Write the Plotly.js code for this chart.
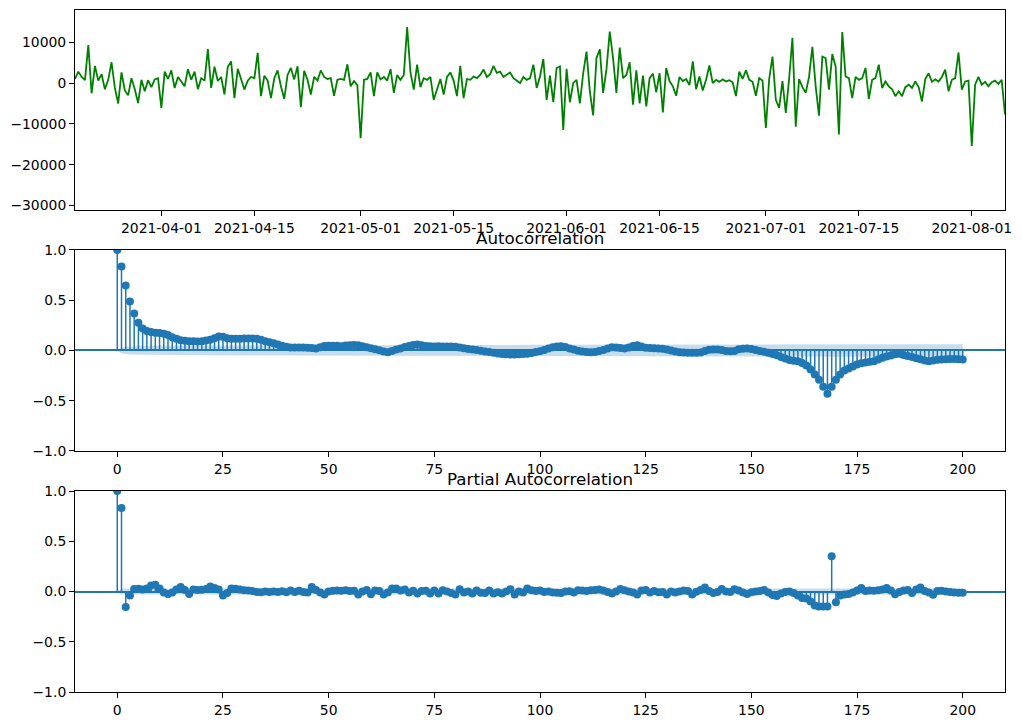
<!DOCTYPE html>
<html>
<head>
<meta charset="utf-8">
<script src="https://cdn.plot.ly/plotly-3.0.1.min.js"></script>
<style>
  body { margin: 0; background: #fff; }
  #chart { width: 1022px; height: 726px; }
</style>
</head>
<body>
<div id="chart"></div>
<script>
// differenced series, one reading every 12 hours from 2021-03-19 00:00
const seriesStart = Date.UTC(2021, 2, 19);
const seriesStepHours = 12;
const seriesValues = [
  1000, 2800, 1500, 700, 9300, -2500, 4200, 600, 2200, -1500,
  800, 5100, -1200, -5000, 2600, -1800, -3000, 1200, -1500, -4900,
  800, -2000, 700, -1000, 900, 1200, -6100, 2800, 1000, 3100,
  -1200, 1500, 400, -800, 3400, 800, 2800, -1500, 1200, 600,
  8300, -1200, 4000, 500, 1500, -2800, 4000, 5300, -3700, 3500,
  1000, -1600, 600, 1500, 1200, 7400, -3200, 1800, 600, -3700,
  1200, 3100, -800, -3900, 2000, 3700, 900, 4100, -5900, 3000,
  800, -2800, 1500, 600, 3100, 1500, 1000, 1200, -3100, 800,
  1000, 800, 4600, -800, 500, -500, -13500, 800, 1000, 2600,
  -3200, 2600, 900, 1500, 600, 3400, -2400, 2000, 800, 2000,
  13700, 2600, -1600, 4500, -1000, 1200, 800, 1500, -4100, -1500,
  1000, -2800, 1500, 2600, 600, -3200, 4200, -3700, 1000, 800,
  1600, 1200, 2000, 3300, 1500, 2200, 4200, 2500, 2800, 1500,
  2000, 2600, 1200, 600, 0, 1500, 800, 1200, 4500, -1200,
  1600, 5900, -4100, 1800, -4700, 3700, 4100, -11500, 3500, -4700,
  0, 800, -5000, 2400, 7700, -2000, -7900, 6100, 8300, -2400,
  3300, 12600, 6100, -2400, 8700, 1200, 2000, 5100, -5300, 3100,
  -5000, 1800, -5700, 1200, 2300, -2300, 2400, -7200, 3700, 500,
  -800, -3100, 1500, 500, 1000, -500, 5300, -1500, 1600, -1800,
  800, 4300, 0, 800, 300, 900, 400, 700, 200, -3200,
  2800, 1000, 3100, 800, 300, -3100, 1200, 600, -11000, 1000,
  6500, -4100, -6100, 500, -7300, 1000, 11100, -10700, 1000, -1000,
  -2400, 1500, 8900, -800, -8000, 6500, 6100, -1600, 7100, 4100,
  -12600, 12500, 1600, 1200, -3700, 1500, 800, 1200, 3700, -3900,
  800, 1200, 4500, -1200, 400, -800, -1500, -3200, -2000, -3200,
  -1000, -400, -1200, 400, -1000, -4500, 1000, 2400, 300, 900,
  400, 1500, 3300, -2000, 800, 1200, 7500, -1600, 400, 600,
  -15400, -400, 1500, -400, 300, -800, 200, 600, -200, 800,
  -7700
];

const dateTicks = ['2021-04-01', '2021-04-15', '2021-05-01', '2021-05-15', '2021-06-01',
                   '2021-06-15', '2021-07-01', '2021-07-15', '2021-08-01'];
const valueTicks = [10000, 0, -10000, -20000, -30000];

// autocorrelation, lags 0..200
const acfValues = [
  1.0, 0.837, 0.647, 0.487, 0.367, 0.277, 0.22, 0.193, 0.183, 0.177,
  0.173, 0.167, 0.153, 0.133, 0.117, 0.103, 0.097, 0.093, 0.092, 0.09,
  0.093, 0.1, 0.108, 0.123, 0.14, 0.137, 0.123, 0.117, 0.116, 0.118,
  0.12, 0.12, 0.119, 0.117, 0.107, 0.093, 0.083, 0.073, 0.06, 0.047,
  0.037, 0.031, 0.03, 0.03, 0.029, 0.027, 0.026, 0.02, 0.033, 0.045,
  0.047, 0.048, 0.046, 0.043, 0.05, 0.053, 0.054, 0.052, 0.043, 0.033,
  0.023, 0.013, 0.002, -0.01, -0.017, -0.005, 0.01, 0.02, 0.035, 0.045,
  0.055, 0.06, 0.052, 0.045, 0.042, 0.04, 0.041, 0.04, 0.04, 0.039,
  0.036, 0.03, 0.022, 0.016, 0.01, 0.004, -0.002, -0.01, -0.016, -0.023,
  -0.029, -0.034, -0.038, -0.04, -0.04, -0.038, -0.035, -0.032, -0.024, -0.015,
  -0.007, 0.005, 0.02, 0.033, 0.04, 0.043, 0.035, 0.02, 0.01, -0.003,
  -0.01, -0.015, -0.017, -0.014, -0.005, 0.005, 0.02, 0.033, 0.03, 0.024,
  0.02, 0.03, 0.045, 0.053, 0.04, 0.027, 0.025, 0.022, 0.02, 0.017,
  0.01, 0.0, -0.01, -0.017, -0.02, -0.023, -0.023, -0.023, -0.02, -0.005,
  0.008, 0.01, 0.01, 0.005, -0.005, -0.007, -0.004, 0.012, 0.017, 0.02,
  0.015, 0.005, -0.005, -0.013, -0.023, -0.035, -0.048, -0.065, -0.08, -0.095,
  -0.102, -0.108, -0.125, -0.15, -0.19, -0.24, -0.29, -0.36, -0.43, -0.36,
  -0.29, -0.24, -0.2, -0.18, -0.16, -0.14, -0.128, -0.12, -0.112, -0.106,
  -0.09, -0.073, -0.06, -0.05, -0.038, -0.033, -0.045, -0.055, -0.065, -0.078,
  -0.088, -0.1, -0.106, -0.1, -0.092, -0.09, -0.087, -0.085, -0.084, -0.088,
  -0.09
];
const acfBandLags = [0, 1, 2, 3, 5, 10, 20, 40, 60, 100, 150, 175, 200];
const acfBandHalf = [0, 0.03, 0.036, 0.04, 0.043, 0.046, 0.048, 0.051, 0.053, 0.056, 0.059, 0.062, 0.063];

// partial autocorrelation, lags 0..200
const pacfValues = [
  1.0, 0.83, -0.155, -0.04, 0.025, 0.027, 0.02, 0.03, 0.06, 0.068,
  0.03, -0.01, -0.025, -0.01, 0.02, 0.045, 0.015, -0.025, 0.02, 0.015,
  0.018, 0.025, 0.05, 0.035, 0.02, -0.04, -0.015, 0.03, 0.028, 0.02,
  0.012, 0.01, 0.005, -0.005, -0.008, 0.0, -0.005, 0.0, -0.006, 0.002,
  -0.008, 0.01, -0.005, 0.008, -0.004, -0.01, 0.045, 0.015, -0.01, -0.03,
  0.0, 0.008, 0.01, 0.008, 0.012, 0.005, 0.008, -0.03, 0.0, 0.015,
  -0.028, 0.01, 0.005, -0.03, -0.01, 0.03, 0.03, 0.01, 0.02, -0.01,
  0.008, -0.02, 0.005, 0.008, -0.02, 0.01, -0.02, 0.012, 0.0, -0.015,
  -0.03, 0.022, -0.01, 0.0, -0.02, 0.01, -0.012, -0.015, 0.01, -0.02,
  -0.008, -0.02, 0.0, 0.022, -0.03, 0.0, -0.01, 0.03, 0.012, 0.005,
  0.01, -0.005, 0.0, -0.01, -0.012, -0.015, 0.0, 0.003, -0.01, 0.012,
  0.01, 0.005, 0.012, 0.015, 0.02, 0.01, -0.005, -0.02, 0.0, 0.025,
  0.012, 0.0, -0.01, -0.03, 0.01, 0.015, -0.01, 0.005, -0.008, -0.005,
  -0.03, 0.0, -0.01, 0.0, 0.01, 0.005, -0.03, -0.002, 0.015, 0.04,
  0.005, -0.015, -0.005, 0.025, 0.0, -0.005, 0.022, 0.01, -0.01, -0.025,
  -0.008, 0.0, 0.005, 0.015, -0.01, -0.035, -0.045, -0.02, -0.005, 0.0,
  -0.015, -0.04, -0.065, -0.07, -0.1, -0.14, -0.15, -0.15, -0.148, 0.35,
  -0.106, -0.04, -0.03, -0.025, -0.01, 0.01, 0.035, 0.005, 0.01, 0.008,
  0.012, 0.02, 0.035, 0.01, -0.028, -0.005, 0.01, 0.015, -0.015, 0.02,
  0.04, 0.005, -0.01, -0.033, 0.005, 0.008, 0.0, -0.005, -0.01, -0.012,
  -0.012
];
const pacfBandLags = [0, 1, 200];
const pacfBandHalf = [0, 0.03, 0.03];

const lagTicks = [0, 25, 50, 75, 100, 125, 150, 175, 200];
const corrTicks = [-1, -0.5, 0, 0.5, 1];

const blue = '#1f77b4';
const font = {family: 'DejaVu Sans, sans-serif', size: 13.9, color: '#000'};

function minus(s) { return String(s).replace('-', '\u2212'); }

function toDateString(ms) {
    return new Date(ms).toISOString().slice(0, 19).replace('T', ' ');
}

let seriesDates = [];
for (let i = 0; i < seriesValues.length; i++) {
    seriesDates.push(toDateString(seriesStart + i * seriesStepHours * 3600 * 1000));
}

// stem plot pieces: shaded band, vertical stems, round markers
function stemTraces(values, bandLags, bandHalf, xa, ya) {
    let lags = [];
    let sx = [];
    let sy = [];
    for (let k = 0; k < values.length; k++) {
        lags.push(k);
        sx.push(k, k, null);
        sy.push(0, values[k], null);
    }
    let bx = bandLags.concat(bandLags.slice().reverse());
    let by = bandHalf.concat(bandHalf.slice().reverse().map(v => -v));
    let band = {
        x: bx, y: by, xaxis: xa, yaxis: ya,
        type: 'scatter', mode: 'lines', fill: 'toself',
        fillcolor: 'rgba(31,119,180,0.25)', line: {width: 0},
        hoverinfo: 'skip'
    };
    let stems = {
        x: sx, y: sy, xaxis: xa, yaxis: ya,
        type: 'scatter', mode: 'lines',
        line: {color: blue, width: 1.5}
    };
    let dots = {
        x: lags, y: values, xaxis: xa, yaxis: ya,
        type: 'scatter', mode: 'markers',
        marker: {color: blue, size: 8}
    };
    return [band, stems, dots];
}

let seriesTrace = {
    x: seriesDates,
    y: seriesValues,
    type: 'scatter',
    mode: 'lines',
    line: {color: '#008000', width: 1.8},
    xaxis: 'x', yaxis: 'y'
};

let data = [seriesTrace]
    .concat(stemTraces(acfValues, acfBandLags, acfBandHalf, 'x2', 'y2'))
    .concat(stemTraces(pacfValues, pacfBandLags, pacfBandHalf, 'x3', 'y3'));

function frame(extra) {
    return Object.assign({
        showline: true, mirror: true, linecolor: '#000', linewidth: 1,
        ticks: 'outside', ticklen: 5, tickwidth: 1, tickcolor: '#000',
        showgrid: false, zeroline: false, tickfont: font
    }, extra);
}

let corrText = corrTicks.map(v => minus(v.toFixed(1)));
let lagAxis = {range: [-10, 210], tickmode: 'array', tickvals: lagTicks, ticktext: lagTicks.map(String)};
let corrAxis = {
    range: [-1, 1], tickmode: 'array', tickvals: corrTicks, ticktext: corrText,
    zeroline: true, zerolinecolor: blue, zerolinewidth: 2
};

let layout = {
    width: 1022,
    height: 726,
    margin: {l: 75, r: 17, t: 10, b: 34},
    paper_bgcolor: '#fff',
    plot_bgcolor: '#fff',
    showlegend: false,
    font: font,
    xaxis: frame({
        domain: [0, 1], anchor: 'y', type: 'date',
        range: [seriesDates[0], seriesDates[seriesDates.length - 1]],
        tickmode: 'array', tickvals: dateTicks, ticktext: dateTicks
    }),
    yaxis: frame({
        domain: [0.7067, 1], anchor: 'x', range: [-31100, 17900],
        tickmode: 'array', tickvals: valueTicks, ticktext: valueTicks.map(minus)
    }),
    xaxis2: frame(Object.assign({domain: [0, 1], anchor: 'y2'}, lagAxis)),
    yaxis2: frame(Object.assign({domain: [0.3534, 0.6481], anchor: 'x2'}, corrAxis)),
    xaxis3: frame(Object.assign({domain: [0, 1], anchor: 'y3'}, lagAxis)),
    yaxis3: frame(Object.assign({domain: [0, 0.2947], anchor: 'x3'}, corrAxis)),
    annotations: [
        {text: 'Autocorrelation', xref: 'paper', yref: 'paper', x: 0.5, y: 0.6481,
         xanchor: 'center', yanchor: 'bottom', yshift: 0, showarrow: false,
         font: {family: font.family, size: 16.7, color: '#000'}},
        {text: 'Partial Autocorrelation', xref: 'paper', yref: 'paper', x: 0.5, y: 0.2947,
         xanchor: 'center', yanchor: 'bottom', yshift: 0, showarrow: false,
         font: {family: font.family, size: 16.7, color: '#000'}}
    ]
};

Plotly.newPlot('chart', data, layout, {displayModeBar: false, staticPlot: true});
</script>
</body>
</html>
